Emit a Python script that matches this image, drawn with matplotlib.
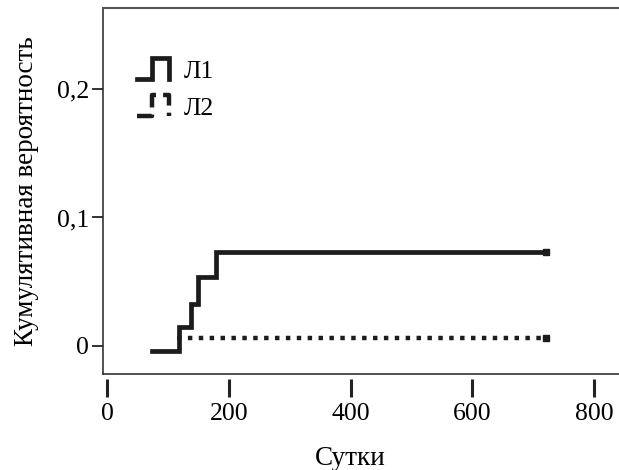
import numpy as np
import matplotlib
matplotlib.use('Agg')
import matplotlib.pyplot as plt
from matplotlib.lines import Line2D
from matplotlib.legend_handler import HandlerBase

plt.rcParams['font.family'] = ['Liberation Serif', 'DejaVu Serif']

# data
l1_days = [74, 118, 138, 149, 179, 721]
l1_prob = [-0.004, 0.015, 0.033, 0.054, 0.073, 0.073]
l2_days = [115, 721]
l2_prob = [0.006, 0.006]
series_names = ['Л1', 'Л2']

x_ticks = [0, 200, 400, 600, 800]
y_ticks = [0, 0.1, 0.2]
y_ticklabels = ['0', '0,1', '0,2']

ink = '#1c1c1c'
dots = (0, (1, 1.45))


class StepHandler(HandlerBase):
    # legend symbol drawn as a little step
    def create_artists(self, legend, orig_handle, xdescent, ydescent,
                       width, height, fontsize, trans):
        xs = np.array([0, 0.48, 0.48, 1, 1]) * width - xdescent
        ys = np.array([0, 0, 1, 1, 0]) * height - ydescent
        line = Line2D(xs, ys, color=orig_handle.get_color(),
                      lw=orig_handle.get_linewidth(),
                      linestyle=orig_handle.get_linestyle(),
                      solid_joinstyle='miter', dash_capstyle='butt')
        line.set_transform(trans)
        return [line]


fig = plt.figure(figsize=(6.19, 4.70), dpi=100)
ax = fig.add_axes([0.1664, 0.2043, 0.8525, 0.7787])

h1, = ax.plot(l1_days, l1_prob, drawstyle='steps-post', color=ink, lw=3.4,
              solid_joinstyle='miter', marker='s', ms=4.5, markevery=[-1])
h2, = ax.plot(l2_days, l2_prob, color=ink, lw=3.2, linestyle=dots,
              dash_capstyle='butt', marker='s', ms=4, markevery=[-1])

ax.set_xlim(-6.6, 860)
ax.set_ylim(-0.0218, 0.263)

ax.spines['right'].set_visible(False)
for s in ['left', 'bottom']:
    ax.spines[s].set_linewidth(1.1)
    ax.spines[s].set_color('#222222')
ax.spines['top'].set_linewidth(1.5)
ax.spines['top'].set_color('#555555')

ax.set_yticks(y_ticks)
ax.set_yticklabels(y_ticklabels)
ax.tick_params(axis='y', direction='out', length=8, width=1.3, pad=2,
               labelsize=18.5, color='#222222')

# x ticks hang a little below the axis line
ax.set_xticks([])
sec = ax.secondary_xaxis(-0.014)
sec.spines['bottom'].set_visible(False)
sec.set_xticks(x_ticks)
sec.set_xticklabels([str(v) for v in x_ticks])
sec.tick_params(axis='x', direction='out', length=13, width=2.2, pad=4,
                labelsize=18.5, color='#222222')

ax.set_ylabel('Кумулятивная вероятность', fontsize=19.5, labelpad=13)
ax.set_xlabel('Сутки')
ax.xaxis.label.set_fontsize(19.5)
ax.xaxis.set_label_coords(0.468, -0.197)

ax.legend([h1, h2], series_names, handler_map={Line2D: StepHandler()},
          loc='upper left', bbox_to_anchor=(0.064, 0.862), frameon=False,
          fontsize=18.5, borderpad=0, borderaxespad=0,
          handlelength=1.24, handleheight=0.85, handletextpad=0.6,
          labelspacing=0.5)

fig.savefig('out.png', dpi=100)
